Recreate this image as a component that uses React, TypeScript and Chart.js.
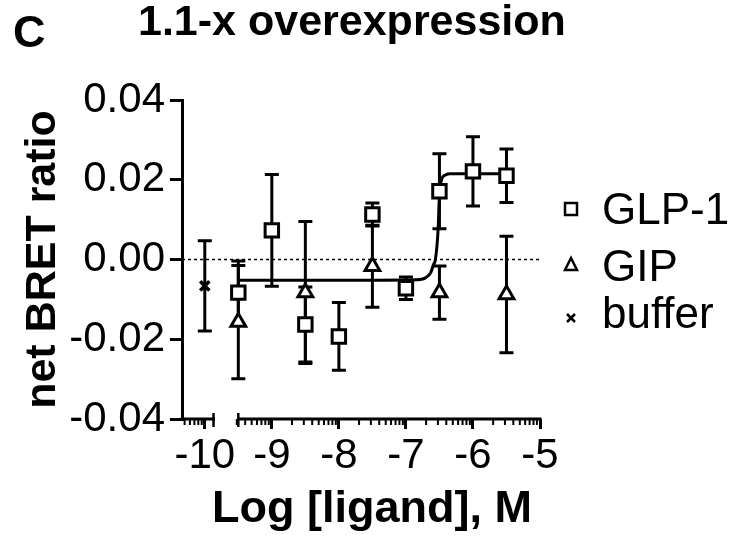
import React, { useEffect, useRef } from 'react';
import { Chart, registerables } from 'chart.js';

Chart.register(...registerables);

// ---- data ----
const glpX = [-9.5, -9, -8.5, -8, -7.5, -7, -6.5, -6, -5.5];
const glpY = [-0.0083, 0.0073, -0.0163, -0.0193, 0.0113, -0.0072, 0.0171, 0.0221, 0.021];
const glpErr = [0.0079, 0.014, 0.0094, 0.0085, 0.0029, 0.0028, 0.0094, 0.0087, 0.0067];

const gipX = [-9.5, -8.5, -7.5, -6.5, -5.5];
const gipY = [-0.0157, -0.0083, -0.0017, -0.0083, -0.0088];
const gipErr = [0.0142, 0.0178, 0.0103, 0.0067, 0.0146];

const bufferX = [-10];
const bufferY = [-0.0066];
const bufferErr = [0.0113];

// fitted GLP-1 curve
const fitX = [-9.5, -7.5, -6.85, -6.71, -6.63, -6.59, -6.56, -6.52, -6.5, -6.47, -6.41, -6.34, -5.5];
const fitY = [-0.0052, -0.0052, -0.0051, -0.0046, -0.0033, -0.0013, 0.0, 0.0075, 0.016, 0.02, 0.0212, 0.0215, 0.0215];

const seriesNames = ['GLP-1', 'GIP', 'buffer'];
const xTickValues = [-10, -9, -8, -7, -6, -5];
const xTickLabels = ['-10', '-9', '-8', '-7', '-6', '-5'];
const yTickValues = [-0.04, -0.02, 0, 0.02, 0.04];
const yTickLabels = ['-0.04', '-0.02', '0.00', '0.02', '0.04'];
const panelLabel = 'C';
const chartTitle = '1.1-x overexpression';
const xTitle = 'Log [ligand], M';
const yTitle = 'net BRET ratio';

const xMin = -10.34;
const xMax = -5;
const yMin = -0.04;
const yMax = 0.04;
const breakStart = -9.87;
const breakEnd = -9.5;

const FONT = '"Liberation Sans", Arial, sans-serif';

const toPts = (xs: number[], ys: number[], errs?: number[]) =>
  xs.map((x, i) => ({ x, y: ys[i], err: errs ? errs[i] : 0 }));

const errorBarPlugin = {
  id: 'errorBars',
  beforeDatasetsDraw(chart: any) {
    const ctx = chart.ctx;
    const xs = chart.scales.x;
    const ys = chart.scales.y;
    ctx.save();
    // dotted zero line
    ctx.strokeStyle = '#000';
    ctx.lineWidth = 1.5;
    ctx.setLineDash([3, 3]);
    ctx.beginPath();
    const y0 = ys.getPixelForValue(0);
    ctx.moveTo(chart.chartArea.left, y0);
    ctx.lineTo(xs.getPixelForValue(xMax) + 2, y0);
    ctx.stroke();
    ctx.setLineDash([]);
    // error bars
    ctx.lineWidth = 3;
    chart.data.datasets.forEach((ds: any) => {
      if (!ds.withErr) return;
      ds.data.forEach((p: any) => {
        const px = xs.getPixelForValue(p.x);
        const top = ys.getPixelForValue(p.y + p.err);
        const bot = ys.getPixelForValue(p.y - p.err);
        ctx.beginPath();
        ctx.moveTo(px, top);
        ctx.lineTo(px, bot);
        ctx.moveTo(px - 7, top);
        ctx.lineTo(px + 7, top);
        ctx.moveTo(px - 7, bot);
        ctx.lineTo(px + 7, bot);
        ctx.stroke();
      });
    });
    ctx.restore();
  },
  afterDraw(chart: any) {
    const ctx = chart.ctx;
    const xs = chart.scales.x;
    const bottom = chart.chartArea.bottom;
    ctx.save();
    ctx.strokeStyle = '#000';
    ctx.fillStyle = '#000';
    // broken x axis line
    ctx.lineWidth = 3;
    ctx.lineCap = 'butt';
    const segs = [
      [xMin, breakStart],
      [breakEnd, xMax],
    ];
    segs.forEach(([a, b], i) => {
      const pa = xs.getPixelForValue(a) - (i === 0 ? 1.5 : 0);
      const pb = xs.getPixelForValue(b) + 1.5;
      ctx.beginPath();
      ctx.moveTo(pa, bottom);
      ctx.lineTo(pb, bottom);
      ctx.stroke();
    });
    // break marks
    ctx.lineWidth = 2.5;
    [breakStart, breakEnd].forEach((v) => {
      const p = xs.getPixelForValue(v);
      ctx.beginPath();
      ctx.moveTo(p, bottom - 6);
      ctx.lineTo(p, bottom + 8);
      ctx.stroke();
    });
    // minor log ticks
    ctx.lineWidth = 2;
    for (let d = -11; d <= -6; d++) {
      for (let k = 2; k <= 9; k++) {
        const v = d + Math.log10(k);
        const inSeg = (v >= xMin + 0.03 && v <= breakStart) || (v >= breakEnd - 0.03 && v <= xMax);
        if (!inSeg) continue;
        const p = xs.getPixelForValue(v);
        ctx.beginPath();
        ctx.moveTo(p, bottom);
        ctx.lineTo(p, bottom + 6);
        ctx.stroke();
      }
    }
    // texts
    ctx.textAlign = 'left';
    ctx.textBaseline = 'alphabetic';
    ctx.font = `bold 45px ${FONT}`;
    ctx.fillText(panelLabel, 13, 47);
    ctx.font = `bold 43px ${FONT}`;
    ctx.fillText(chartTitle, 138, 35);
    ctx.textAlign = 'center';
    ctx.font = `bold 45px ${FONT}`;
    ctx.fillText(xTitle, 372, 522);
    ctx.save();
    ctx.translate(55, (chart.chartArea.top + chart.chartArea.bottom) / 2);
    ctx.rotate(-Math.PI / 2);
    ctx.font = `bold 43px ${FONT}`;
    ctx.fillText(yTitle, 0, 0);
    ctx.restore();
    // legend
    ctx.textAlign = 'left';
    ctx.font = `44px ${FONT}`;
    const lx = 571;
    const tx = 602;
    const rows = [209, 265, 318];
    // square
    ctx.lineWidth = 2.5;
    ctx.strokeRect(lx - 6, rows[0] - 6, 12, 12);
    ctx.fillText(seriesNames[0], tx, rows[0] + 15);
    // triangle
    ctx.beginPath();
    ctx.moveTo(lx, rows[1] - 7);
    ctx.lineTo(lx + 6, rows[1] + 5);
    ctx.lineTo(lx - 6, rows[1] + 5);
    ctx.closePath();
    ctx.stroke();
    ctx.fillText(seriesNames[1], tx, rows[1] + 16);
    // cross
    ctx.lineWidth = 2.5;
    ctx.beginPath();
    ctx.moveTo(lx - 4, rows[2] - 4);
    ctx.lineTo(lx + 4, rows[2] + 4);
    ctx.moveTo(lx + 4, rows[2] - 4);
    ctx.lineTo(lx - 4, rows[2] + 4);
    ctx.stroke();
    ctx.fillText(seriesNames[2], tx, rows[2] + 10);
    ctx.restore();
  },
};

export default function App() {
  const ref = useRef<HTMLCanvasElement | null>(null);
  useEffect(() => {
    if (!ref.current) return;
    const chart = new Chart(ref.current, {
      type: 'scatter',
      data: {
        datasets: [
          {
            label: seriesNames[0],
            data: toPts(glpX, glpY, glpErr),
            withErr: true,
            pointStyle: 'rect',
            pointRadius: 9.5,
            pointBorderWidth: 3,
            borderColor: '#000',
            backgroundColor: '#fff',
            showLine: false,
            clip: false,
          } as any,
          {
            label: seriesNames[1],
            data: toPts(gipX, gipY, gipErr),
            withErr: true,
            pointStyle: 'triangle',
            pointRadius: 8.5,
            pointBorderWidth: 3,
            borderColor: '#000',
            backgroundColor: '#fff',
            showLine: false,
            clip: false,
          } as any,
          {
            label: seriesNames[2],
            data: toPts(bufferX, bufferY, bufferErr),
            withErr: true,
            pointStyle: 'crossRot',
            pointRadius: 6.5,
            pointBorderWidth: 3.5,
            borderColor: '#000',
            backgroundColor: '#000',
            showLine: false,
            clip: false,
          } as any,
          {
            label: 'fit',
            data: toPts(fitX, fitY),
            showLine: true,
            borderColor: '#000',
            borderWidth: 3,
            pointRadius: 0,
            cubicInterpolationMode: 'monotone',
            fill: false,
          } as any,
        ],
      },
      options: {
        animation: false,
        responsive: true,
        maintainAspectRatio: false,
        layout: { padding: { left: 0, top: 100, right: 192, bottom: 0 } },
        plugins: {
          legend: { display: false },
          tooltip: { enabled: false },
          title: { display: false },
        },
        scales: {
          x: {
            type: 'linear',
            min: xMin,
            max: xMax,
            afterBuildTicks: (scale: any) => {
              scale.ticks = xTickValues.map((v) => ({ value: v }));
            },
            afterFit: (scale: any) => {
              scale.height = 121;
            },
            ticks: {
              callback: (v: any) => {
                const i = xTickValues.indexOf(Number(v));
                return i >= 0 ? xTickLabels[i] : '';
              },
              color: '#000',
              font: { family: FONT, size: 42 },
              padding: 2,
              maxRotation: 0,
              autoSkip: false,
            },
            grid: {
              display: true,
              drawOnChartArea: false,
              drawTicks: true,
              tickLength: 10,
              lineWidth: 3,
              color: '#000',
            },
            border: { display: false },
          },
          y: {
            type: 'linear',
            min: yMin,
            max: yMax,
            afterBuildTicks: (scale: any) => {
              scale.ticks = yTickValues.map((v) => ({ value: v }));
            },
            afterFit: (scale: any) => {
              scale.width = 182;
            },
            ticks: {
              callback: (v: any) => {
                const i = yTickValues.findIndex((t) => Math.abs(t - Number(v)) < 1e-9);
                return i >= 0 ? yTickLabels[i] : '';
              },
              color: '#000',
              font: { family: FONT, size: 42 },
              padding: 5,
              autoSkip: false,
            },
            grid: {
              display: true,
              drawOnChartArea: false,
              drawTicks: true,
              tickLength: 12,
              lineWidth: 3,
              color: '#000',
            },
            border: { display: true, width: 3, color: '#000' },
          },
        },
      },
      plugins: [errorBarPlugin],
    });
    return () => chart.destroy();
  }, []);
  return (
    <div style={{ position: 'fixed', left: 0, top: 0, width: 732, height: 540, background: '#fff' }}>
      <canvas ref={ref} />
    </div>
  );
}
